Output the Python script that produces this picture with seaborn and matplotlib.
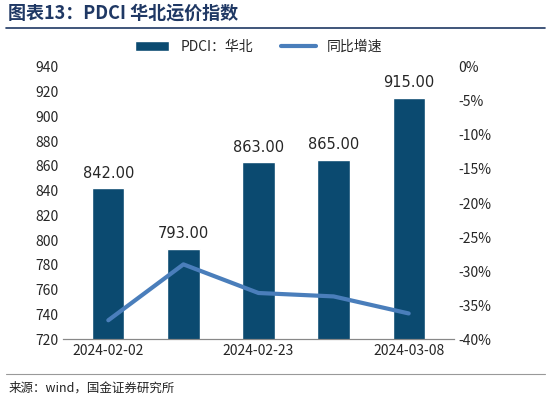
import matplotlib.pyplot as plt
import seaborn as sns
import numpy as np
from matplotlib.ticker import FuncFormatter

sns.set_style("white")
plt.rcParams['font.family'] = ['Noto Sans CJK SC', 'DejaVu Sans']

dates = ['2024-02-02', '2024-02-09', '2024-02-23', '2024-03-01', '2024-03-08']
tick_labels = ['2024-02-02', '', '2024-02-23', '', '2024-03-08']
index_values = [842, 793, 863, 865, 915]
yoy_growth = [-37.2, -29.0, -33.2, -33.7, -36.2]

bar_color = '#0B4A70'
line_color = '#4A7EBB'

fig = plt.figure(figsize=(5.5, 4.04), dpi=100)
ax = fig.add_axes([0.115, 0.16, 0.71, 0.675])

x = np.arange(len(dates))
sns.barplot(x=x, y=index_values, color=bar_color, saturation=1, width=0.43, ax=ax, label='PDCI：华北')
ax.set_ylim(720, 940)
ax.set_yticks(range(720, 941, 20))
for i, v in enumerate(index_values):
    ax.text(i, v + 6, f'{v:.2f}', ha='center', va='bottom', fontsize=10.5, family='DejaVu Sans')
ax.set_xticks(x)
ax.set_xticklabels(tick_labels, fontsize=10)
ax.tick_params(axis='both', labelsize=10, length=0)
ax.set_xlim(-0.6, 4.6)

ax2 = ax.twinx()
ax2.plot(x, yoy_growth, color=line_color, linewidth=3, label='同比增速')
ax2.set_ylim(-40, 0)
ax2.set_yticks(range(-40, 1, 5))
ax2.yaxis.set_major_formatter(FuncFormatter(lambda v, p: f'{int(v)}%'))
ax2.tick_params(axis='y', labelsize=10, length=0)

for a in (ax, ax2):
    for s in ['top', 'left', 'right']:
        a.spines[s].set_visible(False)
    a.spines['bottom'].set_color('#888888')

h1, l1 = ax.get_legend_handles_labels()
h2, l2 = ax2.get_legend_handles_labels()
ax.legend(h1 + h2, l1 + l2, loc='lower center', bbox_to_anchor=(0.5, 1.0),
          ncol=2, frameon=False, fontsize=10, handlelength=2.5)

fig.text(0.015, 0.955, '图表13：PDCI 华北运价指数', fontsize=13, fontweight='bold',
         style='italic', color='#1F3864')
fig.add_artist(plt.Line2D([0.01, 0.99], [0.93, 0.93], color='#1F3864', linewidth=1.2))
fig.text(0.015, 0.03, '来源：wind，国金证券研究所', fontsize=9, color='#222222')
fig.add_artist(plt.Line2D([0.01, 0.99], [0.075, 0.075], color='#999999', linewidth=0.8))

fig.savefig('out.png', dpi=100)
